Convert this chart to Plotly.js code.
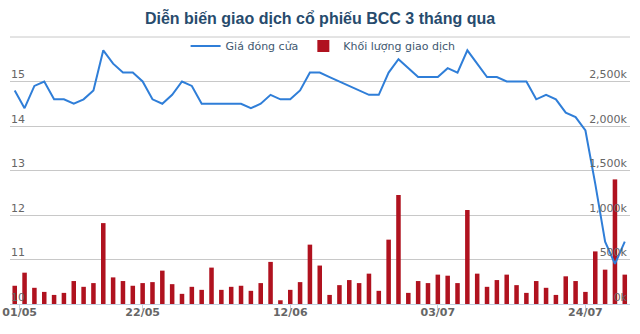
<!DOCTYPE html>
<html>
<head>
<meta charset="utf-8">
<script src="https://cdn.plot.ly/plotly-3.0.1.min.js"></script>
<style>
html,body{margin:0;padding:0;background:#fff;}
#chart{width:640px;height:334px;}
</style>
</head>
<body>
<div id="chart"></div>
<script>
// Trading days (03/05/2017 - 28/07/2017)
const dates = [
  '03/05','04/05','05/05','08/05','09/05','10/05','11/05','12/05','15/05','16/05',
  '17/05','18/05','19/05','22/05','23/05','24/05','25/05','26/05','29/05','30/05',
  '31/05','01/06','02/06','05/06','06/06','07/06','08/06','09/06','12/06','13/06',
  '14/06','15/06','16/06','19/06','20/06','21/06','22/06','23/06','26/06','27/06',
  '28/06','29/06','30/06','03/07','04/07','05/07','06/07','07/07','10/07','11/07',
  '12/07','13/07','14/07','17/07','18/07','19/07','20/07','21/07','24/07','25/07',
  '26/07','27/07','28/07'
];
// Closing price (thousand VND)
const closePrice = [
  14.8,14.4,14.9,15.0,14.6,14.6,14.5,14.6,14.8,15.7,
  15.4,15.2,15.2,15.0,14.6,14.5,14.7,15.0,14.9,14.5,
  14.5,14.5,14.5,14.5,14.4,14.5,14.7,14.6,14.6,14.8,
  15.2,15.2,15.1,15.0,14.9,14.8,14.7,14.7,15.2,15.5,
  15.3,15.1,15.1,15.1,15.3,15.2,15.7,15.4,15.1,15.1,
  15.0,15.0,15.0,14.6,14.7,14.6,14.3,14.2,13.9,12.7,
  11.4,10.9,11.4
];
// Trading volume (thousand shares)
const volumeK = [
  205,352,182,136,102,125,258,193,235,909,
  299,258,205,235,246,375,223,114,193,159,
  409,159,193,205,148,235,473,42,159,246,
  667,432,102,212,269,235,341,148,723,1225,
  125,258,235,330,318,235,1056,341,193,269,
  330,212,125,258,182,102,311,258,136,591,
  386,1400,330
];
const tickLabels = ['01/05','22/05','12/06','03/07','24/07'];
const priceTicks = [10,11,12,13,14,15,16];
const volumeTicks = [0,500,1000,1500,2000,2500,3000];

const idx = dates.map((d, i) => i);
// dates that are not trading days sit half a slot into the series
const tickPos = tickLabels.map(l => { const i = dates.indexOf(l); return i >= 0 ? i : 0.5; });

const axisFont = {family: 'DejaVu Sans', size: 11, color: '#666666'};

const traces = [
  {
    type: 'bar', x: idx, y: volumeK, yaxis: 'y', name: 'Khối lượng giao dịch',
    marker: {color: '#B0121F', line: {width: 0}}, width: 0.46, legendrank: 2,
    hoverinfo: 'skip'
  },
  {
    type: 'scatter', mode: 'lines', x: idx, y: closePrice, yaxis: 'y2', name: 'Giá đóng cửa',
    line: {color: '#2F7ED8', width: 2}, legendrank: 1, hoverinfo: 'skip'
  }
];

const layout = {
  width: 640, height: 334,
  margin: {l: 10, r: 10, t: 37, b: 30, pad: 0},
  paper_bgcolor: '#ffffff', plot_bgcolor: '#ffffff',
  title: {
    text: 'Diễn biến giao dịch cổ phiếu BCC 3 tháng qua',
    font: {family: 'Liberation Sans', size: 16, color: '#274B6D', weight: 'bold'},
    x: 0.5, xref: 'container', xanchor: 'center',
    y: 1 - 18 / 334, yref: 'container', yanchor: 'middle'
  },
  showlegend: true,
  legend: {
    orientation: 'h', x: 0.505, xanchor: 'center', y: 0.966, yanchor: 'middle',
    font: {family: 'DejaVu Sans', size: 11, color: '#3E576F'},
    bgcolor: 'rgba(0,0,0,0)', itemclick: false, itemdoubleclick: false
  },
  shapes: [
    {type: 'line', xref: 'paper', yref: 'paper', x0: 0, x1: 1, y0: 1, y1: 1,
     line: {color: '#C8C8C8', width: 1}, layer: 'below'}
  ],
  xaxis: {
    type: 'linear', range: [-0.48, dates.length - 0.47],
    tickmode: 'array', tickvals: tickPos, ticktext: tickLabels,
    ticks: 'outside', ticklen: 5, tickcolor: '#C0D0E0', tickwidth: 1,
    ticklabelstandoff: -7, ticklabeloverflow: 'allow',
    showline: true, linecolor: '#C0D0E0', linewidth: 1,
    showgrid: false, zeroline: false,
    tickfont: {family: 'DejaVu Sans', size: 11, color: '#666666', weight: 'bold'},
    fixedrange: true
  },
  yaxis: {
    side: 'right', range: [0, 3000],
    tickmode: 'array', tickvals: volumeTicks,
    ticktext: volumeTicks.map(v => v === 3000 ? '' : v.toLocaleString('en-US') + 'k'),
    ticklabelposition: 'inside', ticklabelshift: -7, ticks: '',
    ticklabeloverflow: 'allow',
    showgrid: true, gridcolor: '#C8C8C8', gridwidth: 1,
    zeroline: false, showline: false,
    tickfont: axisFont, fixedrange: true
  },
  yaxis2: {
    overlaying: 'y', side: 'left', range: [10, 16],
    tickmode: 'array', tickvals: priceTicks,
    ticktext: priceTicks.map(v => v === 16 ? '' : String(v)),
    ticklabelposition: 'inside', ticklabelshift: -7, ticklabelstandoff: -2, ticks: '',
    ticklabeloverflow: 'allow',
    showgrid: false, zeroline: false, showline: false,
    tickfont: axisFont, fixedrange: true
  }
};

Plotly.newPlot('chart', traces, layout, {staticPlot: true, displayModeBar: false});
</script>
</body>
</html>
